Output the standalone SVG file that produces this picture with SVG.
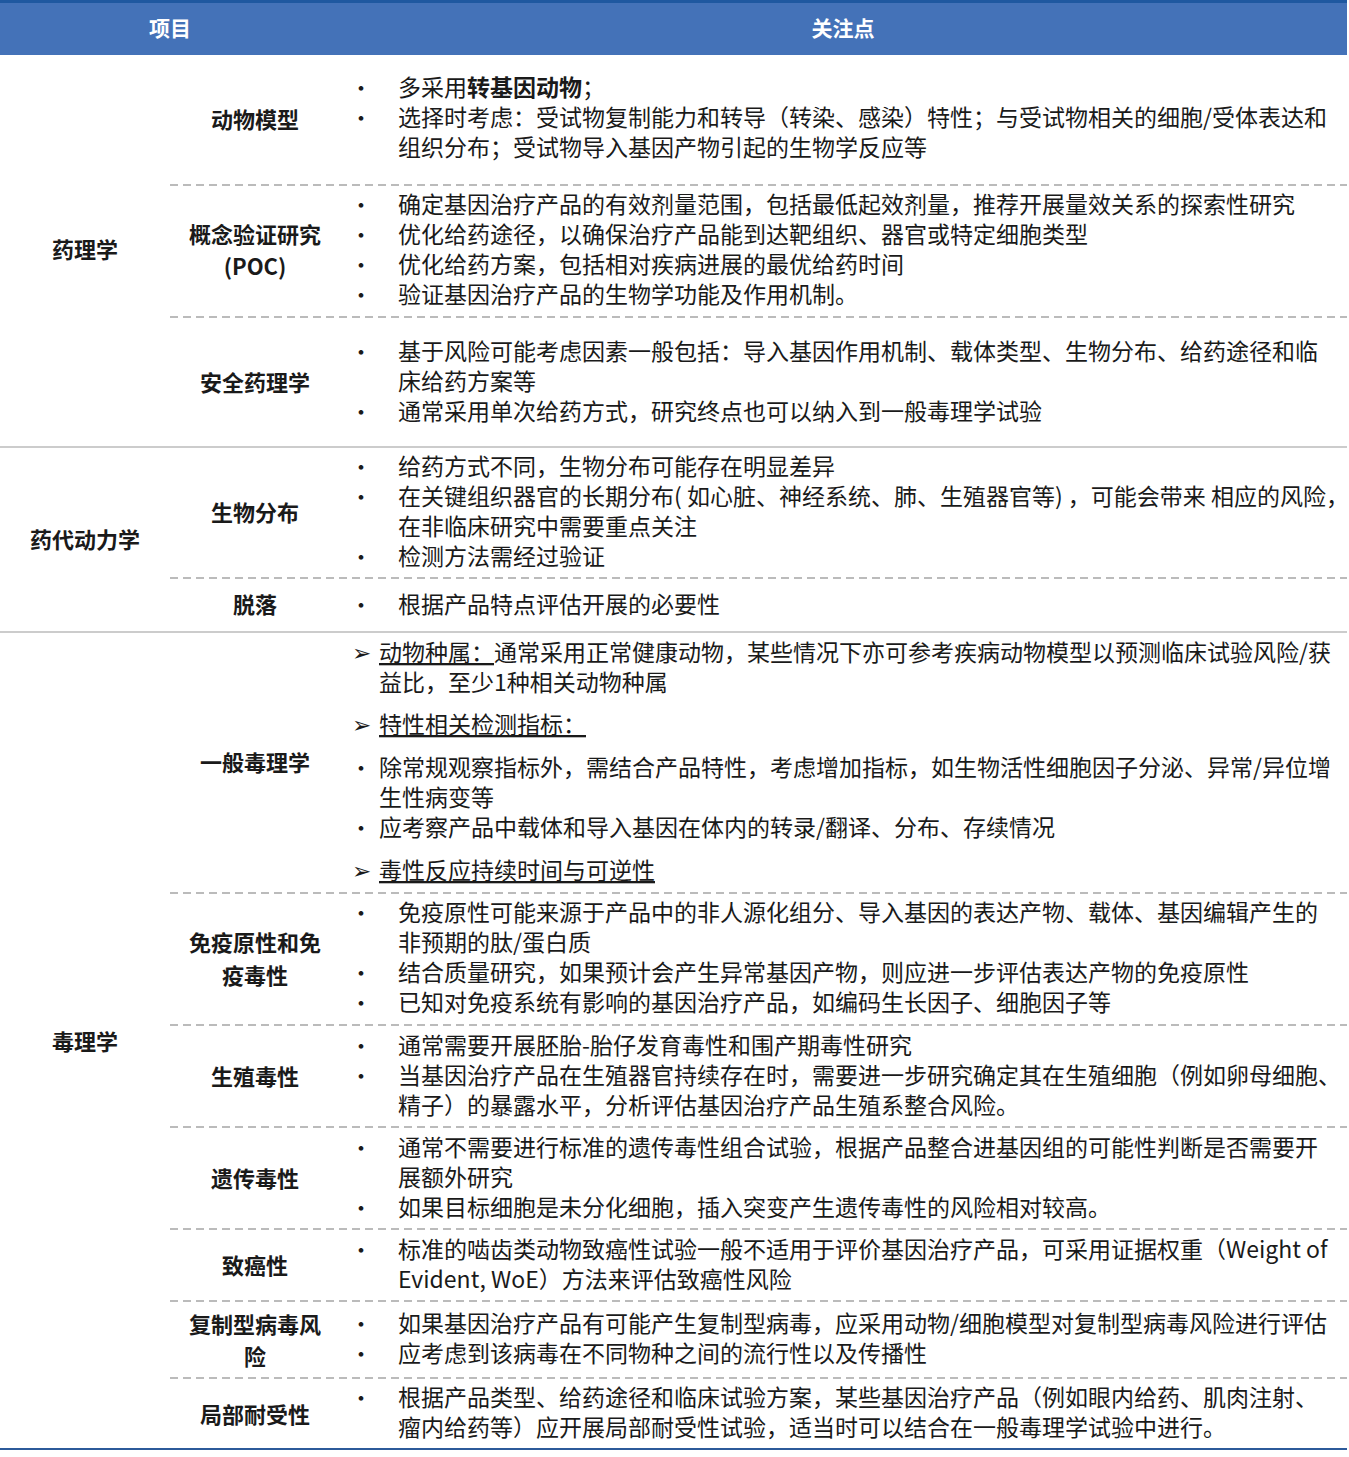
<svg xmlns="http://www.w3.org/2000/svg" width="1349" height="1457" viewBox="0 0 1349 1457">
<style>
text{font-family:"Noto Sans CJK SC","Noto Sans",sans-serif;fill:#1a1a1a}
.t{font-size:23px}
.b{font-size:22px}
.l{font-size:22px;font-weight:bold;text-anchor:middle}
.h{font-size:21px;font-weight:bold;fill:#fff;text-anchor:middle}
.u{text-decoration:underline}
.d{stroke:#bbb;stroke-width:2;stroke-dasharray:8,5}
.s{stroke:#ccc;stroke-width:2}
</style>
<rect width="1349" height="1457" fill="#fff"/>
<g id="header">
<rect x="0" y="0" width="1347" height="55" fill="#4472b8"/>
<rect x="0" y="0" width="1347" height="3" fill="#1f58a0"/>
<text class="h" x="170" y="36">项目</text>
<text class="h" x="843" y="36">关注点</text>
</g>
<g id="connectors">
<line class="d" x1="170" y1="185" x2="1347" y2="185"/>
<line class="d" x1="170" y1="317" x2="1347" y2="317"/>
<line class="s" x1="0" y1="447" x2="1347" y2="447"/>
<line class="d" x1="170" y1="578" x2="1347" y2="578"/>
<line class="s" x1="0" y1="632" x2="1347" y2="632"/>
<line class="d" x1="170" y1="893" x2="1347" y2="893"/>
<line class="d" x1="170" y1="1025" x2="1347" y2="1025"/>
<line class="d" x1="170" y1="1127" x2="1347" y2="1127"/>
<line class="d" x1="170" y1="1229" x2="1347" y2="1229"/>
<line class="d" x1="170" y1="1301" x2="1347" y2="1301"/>
<line class="d" x1="170" y1="1378" x2="1347" y2="1378"/>
<line x1="0" y1="1449" x2="1347" y2="1449" stroke="#2c5a9a" stroke-width="2"/>
</g>
<g id="cat-pharm"><text class="l" x="85" y="258">药理学</text></g>
<g id="cat-pk"><text class="l" x="85" y="548">药代动力学</text></g>
<g id="cat-tox"><text class="l" x="85" y="1050">毒理学</text></g>
<g id="row1">
<text class="l" x="255" y="128">动物模型</text>
<text class="b" x="350" y="96">•</text><text class="t" x="398" y="96">多采用<tspan font-weight="bold">转基因动物</tspan>；</text>
<text class="b" x="350" y="126">•</text><text class="t" x="398" y="126">选择时考虑：受试物复制能力和转导（转染、感染）特性；与受试物相关的细胞/受体表达和</text>
<text class="t" x="398" y="156">组织分布；受试物导入基因产物引起的生物学反应等</text>
</g>
<g id="row2">
<text class="l" x="255" y="243">概念验证研究</text>
<text class="l" x="255" y="275">(POC)</text>
<text class="b" x="350" y="213">•</text><text class="t" x="398" y="213">确定基因治疗产品的有效剂量范围，包括最低起效剂量，推荐开展量效关系的探索性研究</text>
<text class="b" x="350" y="243">•</text><text class="t" x="398" y="243">优化给药途径，以确保治疗产品能到达靶组织、器官或特定细胞类型</text>
<text class="b" x="350" y="273">•</text><text class="t" x="398" y="273">优化给药方案，包括相对疾病进展的最优给药时间</text>
<text class="b" x="350" y="303">•</text><text class="t" x="398" y="303">验证基因治疗产品的生物学功能及作用机制。</text>
</g>
<g id="row3">
<text class="l" x="255" y="391">安全药理学</text>
<text class="b" x="350" y="360">•</text><text class="t" x="398" y="360">基于风险可能考虑因素一般包括：导入基因作用机制、载体类型、生物分布、给药途径和临</text>
<text class="t" x="398" y="390">床给药方案等</text>
<text class="b" x="350" y="420">•</text><text class="t" x="398" y="420">通常采用单次给药方式，研究终点也可以纳入到一般毒理学试验</text>
</g>
<g id="row4">
<text class="l" x="255" y="521">生物分布</text>
<text class="b" x="350" y="475">•</text><text class="t" x="398" y="475">给药方式不同，生物分布可能存在明显差异</text>
<text class="b" x="350" y="505">•</text><text class="t" x="398" y="505">在关键组织器官的长期分布( 如心脏、神经系统、肺、生殖器官等) ，可能会带来 相应的风险，</text>
<text class="t" x="398" y="535">在非临床研究中需要重点关注</text>
<text class="b" x="350" y="565">•</text><text class="t" x="398" y="565">检测方法需经过验证</text>
</g>
<g id="row5">
<text class="l" x="255" y="613">脱落</text>
<text class="b" x="350" y="613">•</text><text class="t" x="398" y="613">根据产品特点评估开展的必要性</text>
</g>
<g id="row6">
<text class="l" x="255" y="771">一般毒理学</text>
<text class="t" x="352" y="661">➢</text><text class="t" x="379" y="661"><tspan class="u">动物种属：</tspan>通常采用正常健康动物，某些情况下亦可参考疾病动物模型以预测临床试验风险/获</text>
<text class="t" x="379" y="691">益比，至少1种相关动物种属</text>
<text class="t" x="352" y="733">➢</text><text class="t u" x="379" y="733">特性相关检测指标：</text>
<text class="b" x="350" y="776">•</text><text class="t" x="379" y="776">除常规观察指标外，需结合产品特性，考虑增加指标，如生物活性细胞因子分泌、异常/异位增</text>
<text class="t" x="379" y="806">生性病变等</text>
<text class="b" x="350" y="836">•</text><text class="t" x="379" y="836">应考察产品中载体和导入基因在体内的转录/翻译、分布、存续情况</text>
<text class="t" x="352" y="879">➢</text><text class="t u" x="379" y="879">毒性反应持续时间与可逆性</text>
</g>
<g id="row7">
<text class="l" x="255" y="951">免疫原性和免</text>
<text class="l" x="255" y="984">疫毒性</text>
<text class="b" x="350" y="921">•</text><text class="t" x="398" y="921">免疫原性可能来源于产品中的非人源化组分、导入基因的表达产物、载体、基因编辑产生的</text>
<text class="t" x="398" y="951">非预期的肽/蛋白质</text>
<text class="b" x="350" y="981">•</text><text class="t" x="398" y="981">结合质量研究，如果预计会产生异常基因产物，则应进一步评估表达产物的免疫原性</text>
<text class="b" x="350" y="1011">•</text><text class="t" x="398" y="1011">已知对免疫系统有影响的基因治疗产品，如编码生长因子、细胞因子等</text>
</g>
<g id="row8">
<text class="l" x="255" y="1085">生殖毒性</text>
<text class="b" x="350" y="1054">•</text><text class="t" x="398" y="1054">通常需要开展胚胎-胎仔发育毒性和围产期毒性研究</text>
<text class="b" x="350" y="1084">•</text><text class="t" x="398" y="1084">当基因治疗产品在生殖器官持续存在时，需要进一步研究确定其在生殖细胞（例如卵母细胞、</text>
<text class="t" x="398" y="1114">精子）的暴露水平，分析评估基因治疗产品生殖系整合风险。</text>
</g>
<g id="row9">
<text class="l" x="255" y="1187">遗传毒性</text>
<text class="b" x="350" y="1156">•</text><text class="t" x="398" y="1156">通常不需要进行标准的遗传毒性组合试验，根据产品整合进基因组的可能性判断是否需要开</text>
<text class="t" x="398" y="1186">展额外研究</text>
<text class="b" x="350" y="1216">•</text><text class="t" x="398" y="1216">如果目标细胞是未分化细胞，插入突变产生遗传毒性的风险相对较高。</text>
</g>
<g id="row10">
<text class="l" x="255" y="1274">致癌性</text>
<text class="b" x="350" y="1258">•</text><text class="t" x="398" y="1258">标准的啮齿类动物致癌性试验一般不适用于评价基因治疗产品，可采用证据权重（Weight of</text>
<text class="t" x="398" y="1288">Evident, WoE）方法来评估致癌性风险</text>
</g>
<g id="row11">
<text class="l" x="255" y="1333">复制型病毒风</text>
<text class="l" x="255" y="1365">险</text>
<text class="b" x="350" y="1332">•</text><text class="t" x="398" y="1332">如果基因治疗产品有可能产生复制型病毒，应采用动物/细胞模型对复制型病毒风险进行评估</text>
<text class="b" x="350" y="1362">•</text><text class="t" x="398" y="1362">应考虑到该病毒在不同物种之间的流行性以及传播性</text>
</g>
<g id="row12">
<text class="l" x="255" y="1423">局部耐受性</text>
<text class="b" x="350" y="1406">•</text><text class="t" x="398" y="1406">根据产品类型、给药途径和临床试验方案，某些基因治疗产品（例如眼内给药、肌肉注射、</text>
<text class="t" x="398" y="1436">瘤内给药等）应开展局部耐受性试验，适当时可以结合在一般毒理学试验中进行。</text>
</g>
</svg>
